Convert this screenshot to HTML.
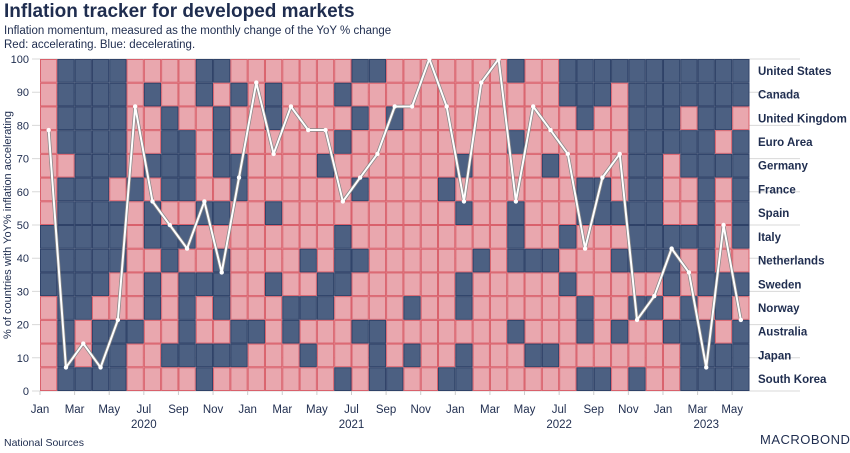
<!DOCTYPE html>
<html><head><meta charset="utf-8">
<style>
body{margin:0;background:#fff;width:850px;height:453px;overflow:hidden;font-family:"Liberation Sans",sans-serif;color:#1f2d4f}
#title{position:absolute;left:4px;top:1px;font-size:19px;font-weight:bold;color:#1f2d4f}
.sub{position:absolute;left:4px;font-size:11.5px;color:#1f2d4f}
#src{position:absolute;left:4px;top:437px;font-size:10.5px}
#logo{position:absolute;left:760px;top:432px;font-size:13px;letter-spacing:0.5px;color:#1f2d4f}
svg{position:absolute;left:0;top:0}
</style></head><body>
<div id="title">Inflation tracker for developed markets</div>
<div class="sub" style="top:25px">Inflation momentum, measured as the monthly change of the YoY % change</div>
<div class="sub" style="top:39px">Red: accelerating. Blue: decelerating.</div>
<div id="src">National Sources</div>
<div id="logo">MACROBOND</div>
<svg id="chart" width="850" height="453"></svg>
<script>
const countries=["United States","Canada","United Kingdom","Euro Area","Germany","France","Spain","Italy","Netherlands","Sweden","Norway","Australia","Japan","South Korea"];
const heatRows=[
"1000011110"+"01111111001"+"1111110110"+"0000000000",
"1000010110"+"10101110111"+"1111111110"+"0010000000",
"1000011011"+"01101111010"+"1111111111"+"0110001001",
"1000011001"+"01111110111"+"1111110111"+"1110000010",
"1100010001"+"00111101111"+"1110111101"+"1110010000",
"1000101001"+"10111111011"+"1101111111"+"0010011010",
"1000010110"+"01101111111"+"1110110111"+"0000011010",
"0000010001"+"11111110111"+"1111110110"+"1110000010",
"0000011011"+"01111010011"+"1111010001"+"1100001011",
"0000110100"+"01101100111"+"1110111110"+"1111101000",
"1001110101"+"01110001111"+"0110111111"+"0110010101",
"1010001101"+"10010111001"+"1111110111"+"0101100010",
"1010011000"+"00111011101"+"0110111001"+"1111110000",
"1000011110"+"11111110100"+"1100111111"+"0010110000"];
const lineValues=[78.6,7.1,14.3,7.1,21.4,85.7,57.1,50,42.9,57.1,35.7,64.3,92.9,71.4,85.7,78.6,78.6,57.1,64.3,71.4,85.7,85.7,100,85.7,57.1,92.9,100,57.1,85.7,78.6,71.4,42.9,64.3,71.4,21.4,28.6,42.9,35.7,7.1,50,21.4];
const yTicks=[0,10,20,30,40,50,60,70,80,90,100];
const monthLabels=["Jan","Mar","May","Jul","Sep","Nov"];
const years=["2020","2021","2022","2023"];

const NS="http://www.w3.org/2000/svg";
const svg=document.getElementById('chart');
const X0=40,X1=749.5,Y0=59,Y1=391,NC=41;
const cw=(X1-X0)/NC, rh=(Y1-Y0)/countries.length;
const xEdge=i=>X0+i*cw;
const xC=i=>X0+(i+0.5)*cw;
const yV=v=>Y1-(v/100)*(Y1-Y0);
function mk(t,a){const e=document.createElementNS(NS,t);for(const k in a)e.setAttribute(k,a[k]);svg.appendChild(e);return e;}
// y grid/ticks
yTicks.forEach(v=>{
 const l=mk('line',{x1:32,x2:800,y1:yV(v),y2:yV(v),stroke:'#d8d8d8','stroke-width':1});
 
 
 const t=mk('text',{x:29,y:yV(v)+4,'text-anchor':'end','font-size':11,fill:'#1f2d4f'});
 t.textContent=v;
 
 
});
// cells
heatRows.forEach((row,r)=>{
 for(let c=0;c<row.length;c++){
  const pink=row[c]==='1';
  const rc=mk('rect',{x:xEdge(c)+0.5,y:Y0+r*rh+0.5,width:cw-1,height:rh-1,fill:pink?'#e9a7ae':'#4c6082',stroke:pink?'#d9616c':'#2f4268','stroke-width':1});
  
  
 }
 const t=mk('text',{x:758,y:Y0+(r+0.5)*rh+4,'font-size':11.5,'font-weight':'bold',fill:'#1f2d4f'});
 t.textContent=countries[r];
 
 
});
// line
const pts=lineValues.map((v,i)=>xC(i)+','+yV(v)).join(' ');
const pl=mk('polyline',{points:pts,fill:'none',stroke:'#888','stroke-width':3.5,'stroke-linejoin':'round'});


const pl2=mk('polyline',{points:pts,fill:'none',stroke:'#fff','stroke-width':2,'stroke-linejoin':'round'});


lineValues.forEach((v,i)=>{
 const d=mk('circle',{cx:xC(i),cy:yV(v),r:2.2,fill:'#fff'});
 
 
});
// x labels
for(let i=0;i<NC;i+=2){
 const tk=mk('line',{x1:xEdge(i),x2:xEdge(i),y1:Y1,y2:Y1+4,stroke:'#ccc'});
 
 
 const t=mk('text',{x:xEdge(i),y:413,'text-anchor':'middle','font-size':11.5,fill:'#1f2d4f'});
 t.textContent=monthLabels[(i/2)%6];
 
 
}
years.forEach((y,k)=>{
 const s=k*12, e=Math.min(s+12,NC);
 const t=mk('text',{x:(xEdge(s)+xEdge(e))/2,y:428,'text-anchor':'middle','font-size':11.5,fill:'#1f2d4f'});
 t.textContent=y;
 
 
});
const yt=mk('text',{x:0,y:0,'text-anchor':'middle','font-size':11,fill:'#1f2d4f',transform:'translate(11,225) rotate(-90)'});
yt.textContent='% of countries with YoY% inflation accelerating';


</script>
</body></html>
